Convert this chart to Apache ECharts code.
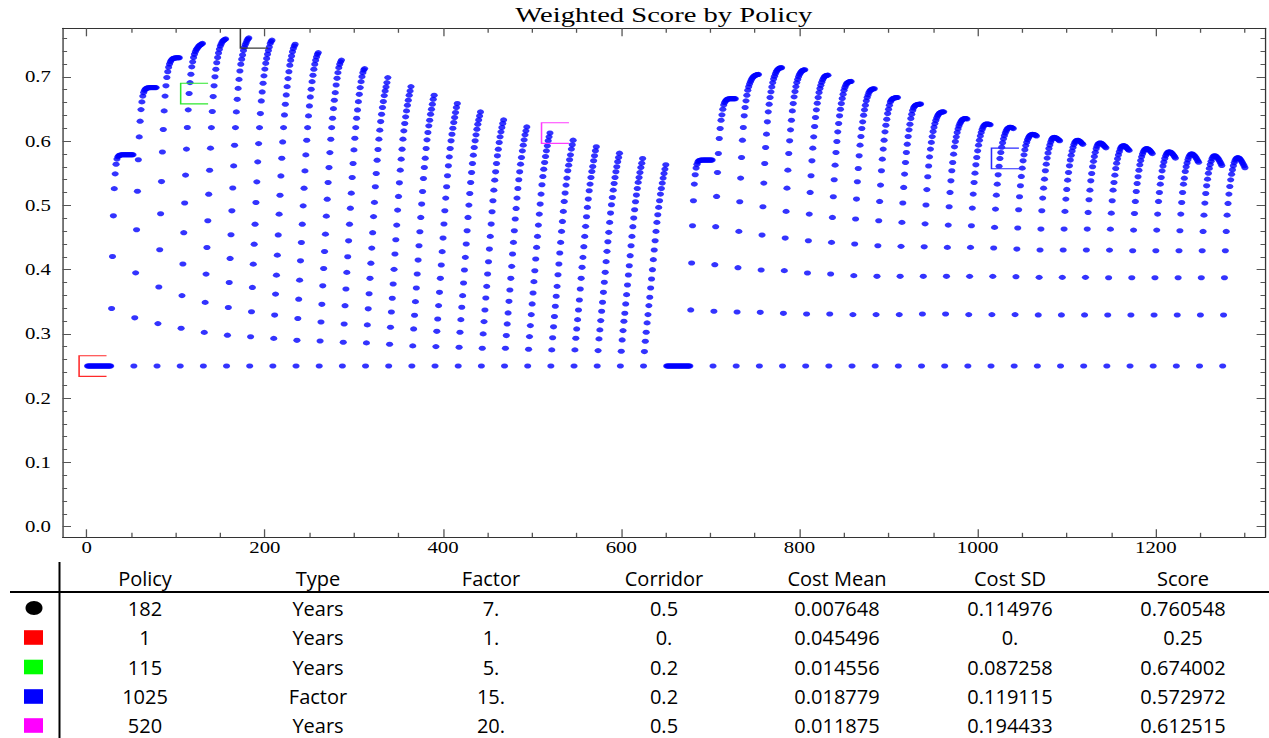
<!DOCTYPE html>
<html>
<head>
<meta charset="utf-8">
<script src="https://cdn.jsdelivr.net/npm/echarts@6/dist/echarts.min.js"></script>
<style>
html,body{margin:0;padding:0;background:#fff;width:1269px;height:738px;overflow:hidden;}
#plot{position:absolute;left:0;top:0;width:976px;height:556px;transform:scaleX(1.3);transform-origin:0 0;}
#table{position:absolute;left:0;top:556px;width:1269px;height:182px;}
</style>
</head>
<body>
<div id="plot"></div>
<div id="table"></div>
<script>
// ---------- Scores by policy (26 corridor values per factor) ----------
// Type "Years", factor 1..25 (policies 1..650)
const years01 = [0.25,0.25,0.25,0.25,0.25,0.25,0.25,0.25,0.25,0.25,0.25,0.25,0.25,0.25,0.25,0.25,0.25,0.25,0.25,0.25,0.25,0.25,0.25,0.25,0.25,0.25];
const years02 = [0.25,0.3395,0.4204,0.4837,0.526,0.549,0.564,0.572,0.5755,0.5772,0.578,0.5784,0.5786,0.5787,0.5788,0.5788,0.5788,0.5788,0.5788,0.5788,0.5788,0.5788,0.5788,0.5788,0.5788,0.5788];
const years03 = [0.25,0.325,0.395,0.462,0.522,0.571,0.6065,0.631,0.649,0.661,0.670,0.6755,0.679,0.681,0.682,0.6825,0.683,0.683,0.6832,0.6832,0.6832,0.6832,0.6832,0.6832,0.6832,0.6832];
const years04 = [0.25,0.316,0.373,0.431,0.487,0.537,0.583,0.618,0.647,0.670,0.686,0.699,0.708,0.715,0.72,0.7235,0.726,0.7275,0.7285,0.729,0.7293,0.7295,0.7296,0.7297,0.7297,0.7297];
const years05 = [0.25,0.3088,0.3596,0.4088,0.4575,0.5036,0.5471,0.5875,0.6211,0.6486,0.674,0.691,0.704,0.7155,0.7233,0.73,0.735,0.739,0.742,0.744,0.746,0.748,0.749,0.750,0.751,0.752];
const years06 = [0.25,0.3023,0.349,0.393,0.4345,0.476,0.5174,0.5547,0.589,0.621,0.646,0.6693,0.686,0.700,0.7118,0.722,0.73,0.737,0.743,0.748,0.751,0.754,0.756,0.757,0.758,0.759];
const years07 = [0.25,0.298,0.341,0.380,0.4174,0.4542,0.4915,0.527,0.5614,0.5935,0.621,0.6454,0.665,0.682,0.696,0.709,0.7195,0.7273,0.734,0.741,0.746,0.750,0.753,0.7565,0.7588,0.7605];
const years08 = [0.25,0.2956,0.3345,0.3723,0.4085,0.4396,0.4707,0.5044,0.5366,0.5677,0.5961,0.621,0.6428,0.6625,0.6765,0.690,0.7015,0.712,0.721,0.7285,0.735,0.741,0.7465,0.752,0.755,0.757];
const years09 = [0.25,0.293,0.3293,0.3619,0.3914,0.4225,0.454,0.4863,0.5158,0.5458,0.5733,0.5987,0.621,0.6407,0.6573,0.6718,0.6847,0.6972,0.708,0.718,0.7257,0.7325,0.739,0.744,0.748,0.7507];
const years10 = [0.25,0.290,0.324,0.354,0.3836,0.4137,0.4422,0.4707,0.4992,0.5267,0.5536,0.5785,0.6013,0.621,0.6392,0.6547,0.6687,0.6806,0.6925,0.7024,0.7118,0.7195,0.7257,0.731,0.735,0.7377];
const years11 = [0.25,0.289,0.3185,0.346,0.3748,0.4018,0.4282,0.4552,0.4832,0.5096,0.5355,0.5588,0.5821,0.6029,0.621,0.6355,0.6505,0.6635,0.6754,0.6873,0.6977,0.7065,0.7143,0.7195,0.7233,0.726];
const years12 = [0.25,0.287,0.3154,0.3439,0.3698,0.3957,0.42,0.4448,0.4707,0.4956,0.519,0.5433,0.5651,0.5863,0.6044,0.621,0.6355,0.6485,0.6614,0.6728,0.6832,0.6925,0.7003,0.7065,0.7107,0.7128];
const years13 = [0.25,0.286,0.314,0.339,0.3625,0.3865,0.41,0.4335,0.4575,0.4825,0.5046,0.5289,0.5496,0.5703,0.5869,0.603,0.617,0.6304,0.6418,0.6522,0.6615,0.6708,0.6781,0.6843,0.691,0.6988];
const years14 = [0.25,0.2839,0.3103,0.3341,0.3554,0.3776,0.4004,0.4243,0.4465,0.4693,0.4926,0.5139,0.5351,0.5548,0.5719,0.5874,0.603,0.6159,0.6273,0.6377,0.647,0.6558,0.6636,0.6713,0.6781,0.6848];
const years15 = [0.25,0.2813,0.3077,0.329,0.3502,0.3714,0.3932,0.4149,0.4372,0.459,0.4812,0.502,0.5216,0.5418,0.5589,0.5734,0.5885,0.6019,0.6133,0.6237,0.6325,0.6418,0.6496,0.6574,0.6651,0.6713];
const years16 = [0.25,0.2802,0.304,0.3232,0.344,0.3647,0.3865,0.4072,0.428,0.4491,0.471,0.4916,0.5113,0.529,0.546,0.5615,0.5755,0.5885,0.6004,0.6107,0.62,0.6289,0.6367,0.6444,0.6522,0.6584];
const years17 = [0.25,0.2792,0.3025,0.3222,0.3414,0.3595,0.3792,0.3994,0.4191,0.4398,0.4605,0.4812,0.5004,0.5185,0.5356,0.5512,0.5652,0.5781,0.59,0.6004,0.6097,0.6185,0.6263,0.633,0.6392,0.6454];
const years18 = [0.25,0.2777,0.3,0.3191,0.3372,0.3559,0.374,0.3932,0.4123,0.432,0.4517,0.4709,0.4901,0.5071,0.5237,0.5392,0.5522,0.5652,0.5771,0.5874,0.5978,0.6066,0.6144,0.6211,0.6273,0.633];
const years19 = [0.25,0.2777,0.2974,0.3155,0.3326,0.3507,0.3683,0.3865,0.4051,0.4243,0.4424,0.4605,0.4787,0.4952,0.5113,0.5263,0.5398,0.5522,0.5641,0.5745,0.5848,0.5937,0.6019,0.6097,0.6159,0.6221];
const years20 = [0.25,0.2761,0.2958,0.3129,0.33,0.3466,0.3636,0.3813,0.3983,0.4165,0.4346,0.4517,0.4693,0.4864,0.502,0.5175,0.532,0.5449,0.5563,0.5667,0.576,0.5848,0.5926,0.6004,0.6066,0.6125];
const years21 = [0.25,0.2751,0.294,0.311,0.327,0.343,0.3585,0.374,0.392,0.4087,0.4258,0.4424,0.4595,0.475,0.4906,0.5061,0.5191,0.5315,0.5424,0.5538,0.5626,0.5709,0.5786,0.5875,0.5942,0.6014];
const years22 = [0.25,0.2751,0.2932,0.3077,0.3222,0.3372,0.3528,0.3699,0.3865,0.4036,0.4191,0.4357,0.4517,0.4673,0.4823,0.4968,0.5098,0.5227,0.5331,0.5434,0.5527,0.5605,0.5693,0.5771,0.5849,0.5911];
const years23 = [0.25,0.274,0.2922,0.3062,0.3207,0.3352,0.3492,0.3647,0.3803,0.3958,0.4124,0.4284,0.4434,0.458,0.4735,0.488,0.5009,0.5123,0.5237,0.534,0.5434,0.5522,0.56,0.5678,0.5745,0.5812];
const years24 = [0.25,0.273,0.2906,0.3051,0.3196,0.3321,0.3466,0.3611,0.3761,0.3916,0.4061,0.4217,0.4372,0.4517,0.4668,0.4802,0.4932,0.5056,0.516,0.5263,0.5357,0.5434,0.5512,0.559,0.5657,0.5729];
const years25 = [0.25,0.2725,0.2886,0.3026,0.3171,0.33,0.344,0.357,0.3714,0.3854,0.3999,0.4155,0.4305,0.445,0.4595,0.4735,0.4854,0.4968,0.5072,0.5175,0.5263,0.5346,0.5424,0.5496,0.5564,0.5631];
// Type "Factor", factor 1..25 (policies 651..1300)
const factor01 = [0.25,0.25,0.25,0.25,0.25,0.25,0.25,0.25,0.25,0.25,0.25,0.25,0.25,0.25,0.25,0.25,0.25,0.25,0.25,0.25,0.25,0.25,0.25,0.25,0.25,0.25];
const factor02 = [0.25,0.3373,0.4103,0.4683,0.5072,0.5331,0.5476,0.558,0.564,0.5675,0.5693,0.570,0.5703,0.5704,0.5705,0.5705,0.5705,0.5705,0.5705,0.5705,0.5705,0.5705,0.5705,0.5705,0.5705,0.5705];
const factor03 = [0.25,0.3352,0.4077,0.4668,0.5139,0.5512,0.5807,0.604,0.6196,0.6325,0.6408,0.6496,0.6563,0.660,0.6625,0.664,0.665,0.6655,0.6658,0.666,0.666,0.666,0.666,0.666,0.666,0.666];
const factor04 = [0.25,0.334,0.403,0.4595,0.5056,0.5424,0.5745,0.6014,0.6211,0.6393,0.6522,0.6626,0.6714,0.6791,0.6845,0.689,0.6925,0.6955,0.698,0.6998,0.701,0.702,0.7027,0.7032,0.7035,0.7037];
const factor05 = [0.25,0.3336,0.3994,0.4538,0.4978,0.5346,0.5652,0.5901,0.6108,0.63,0.6455,0.6574,0.6678,0.6766,0.6843,0.691,0.6965,0.701,0.7048,0.708,0.7103,0.712,0.7131,0.7137,0.714,0.7142];
const factor06 = [0.25,0.332,0.3984,0.4491,0.4906,0.5268,0.5548,0.5807,0.6004,0.6175,0.6325,0.647,0.6584,0.6688,0.6771,0.6848,0.691,0.696,0.700,0.7035,0.706,0.708,0.7095,0.7103,0.7108,0.711];
const factor07 = [0.25,0.331,0.3948,0.445,0.4864,0.5201,0.546,0.5693,0.589,0.6066,0.6227,0.6367,0.6486,0.659,0.6678,0.6755,0.6817,0.6869,0.6915,0.6952,0.698,0.7,0.7012,0.702,0.7024,0.7026];
const factor08 = [0.25,0.331,0.3932,0.4424,0.4812,0.5134,0.5398,0.5626,0.5823,0.5994,0.6144,0.6273,0.6393,0.6496,0.6584,0.6662,0.6729,0.6791,0.6833,0.6869,0.6895,0.691,0.6918,0.6923,0.6926,0.6928];
const factor09 = [0.25,0.33,0.3906,0.4398,0.4787,0.5098,0.5367,0.5574,0.5771,0.5937,0.6071,0.6196,0.6299,0.6403,0.6486,0.6558,0.6626,0.6678,0.6719,0.6755,0.6781,0.6795,0.6805,0.681,0.6813,0.6815];
const factor10 = [0.25,0.33,0.3896,0.4372,0.4761,0.5061,0.5315,0.5538,0.5719,0.5875,0.6014,0.6144,0.6247,0.6341,0.6429,0.6496,0.6558,0.661,0.6635,0.6652,0.6662,0.6668,0.6672,0.6675,0.6677,0.6678];
const factor11 = [0.25,0.33,0.3896,0.4362,0.4735,0.5036,0.5279,0.5486,0.5667,0.5823,0.5952,0.6071,0.6175,0.6263,0.6351,0.6418,0.6475,0.6515,0.654,0.6555,0.6563,0.6568,0.6571,0.6573,0.6575,0.6576];
const factor12 = [0.25,0.331,0.3896,0.4355,0.4712,0.5005,0.5245,0.5445,0.5612,0.5755,0.5875,0.598,0.607,0.6148,0.6215,0.6272,0.632,0.636,0.6392,0.6415,0.6432,0.6443,0.645,0.6453,0.6455,0.6455];
const factor13 = [0.25,0.331,0.3896,0.4346,0.4693,0.4978,0.5201,0.5382,0.5538,0.5667,0.5797,0.591,0.5993,0.6066,0.6133,0.619,0.6235,0.627,0.6298,0.632,0.6335,0.6345,0.635,0.6352,0.635,0.6345];
const factor14 = [0.25,0.33,0.3895,0.4346,0.4683,0.4957,0.5175,0.5356,0.5501,0.5631,0.5745,0.5848,0.5937,0.6014,0.6081,0.6135,0.618,0.6215,0.624,0.6255,0.6263,0.6266,0.6266,0.6264,0.626,0.6255];
const factor15 = [0.25,0.33,0.3895,0.4336,0.4657,0.4942,0.5159,0.533,0.5475,0.5608,0.573,0.5823,0.5905,0.5975,0.6035,0.6085,0.6125,0.6158,0.6183,0.62,0.621,0.6215,0.6215,0.6212,0.6205,0.6195];
const factor16 = [0.25,0.33,0.389,0.432,0.4647,0.4932,0.5134,0.5305,0.545,0.5579,0.5693,0.5786,0.5865,0.593,0.598,0.602,0.605,0.6075,0.609,0.61,0.6105,0.6105,0.6102,0.6098,0.609,0.608];
const factor17 = [0.25,0.3295,0.388,0.4305,0.4631,0.4916,0.5113,0.5268,0.5408,0.5538,0.5641,0.5735,0.5815,0.5885,0.594,0.5985,0.602,0.6043,0.6055,0.6058,0.6055,0.6048,0.604,0.603,0.6018,0.6005];
const factor18 = [0.25,0.3295,0.388,0.4305,0.4631,0.4906,0.5097,0.5248,0.5392,0.5512,0.5615,0.5705,0.578,0.5845,0.59,0.5945,0.5978,0.5998,0.6008,0.6012,0.601,0.6003,0.5993,0.598,0.5965,0.595];
const factor19 = [0.25,0.3295,0.388,0.4305,0.4631,0.489,0.5087,0.5237,0.5382,0.5496,0.56,0.5685,0.576,0.5825,0.588,0.592,0.595,0.5965,0.597,0.597,0.5965,0.5955,0.594,0.5925,0.591,0.5895];
const factor20 = [0.25,0.3294,0.3874,0.4304,0.463,0.4879,0.5071,0.5237,0.5356,0.547,0.5573,0.5655,0.5725,0.5785,0.5835,0.5875,0.5903,0.592,0.5928,0.593,0.5925,0.5915,0.59,0.5885,0.587,0.5855];
const factor21 = [0.25,0.3294,0.3874,0.4294,0.4615,0.4874,0.5061,0.5216,0.534,0.5444,0.5547,0.563,0.5698,0.5755,0.58,0.5835,0.586,0.5875,0.5882,0.5882,0.5878,0.587,0.5858,0.5842,0.5825,0.5805];
const factor22 = [0.25,0.3294,0.3874,0.4294,0.4615,0.4864,0.5061,0.52,0.533,0.5434,0.5537,0.5612,0.5675,0.5728,0.577,0.58,0.582,0.583,0.5832,0.583,0.5823,0.5812,0.5797,0.5778,0.5757,0.5735];
const factor23 = [0.25,0.3294,0.3874,0.4294,0.4605,0.4864,0.5045,0.52,0.533,0.5423,0.5527,0.56,0.566,0.571,0.575,0.5778,0.5795,0.58,0.5798,0.579,0.5778,0.5762,0.5742,0.572,0.5695,0.567];
const factor24 = [0.25,0.3294,0.3874,0.4294,0.4594,0.4848,0.5035,0.5185,0.5304,0.5408,0.55,0.5575,0.5635,0.5685,0.5725,0.5752,0.5768,0.5772,0.5768,0.5758,0.5743,0.5724,0.5702,0.5677,0.565,0.562];
const factor25 = [0.25,0.3294,0.3874,0.4294,0.4594,0.4848,0.503,0.5175,0.5294,0.5397,0.5485,0.5555,0.5615,0.5665,0.5702,0.5725,0.5738,0.5742,0.5738,0.5728,0.5712,0.5692,0.5668,0.5642,0.5615,0.5585];

// ---------- Axis ticks ----------
const xMajorTicks = [0, 200, 400, 600, 800, 1000, 1200];
const xMinorTicks = [50, 100, 150, 250, 300, 350, 450, 500, 550, 650, 700, 750, 850, 900, 950, 1050, 1100, 1150, 1250, 1300];
const yMajorTicks = [0, 0.1, 0.2, 0.3, 0.4, 0.5, 0.6, 0.7];
const yMinorTicks = [0.02, 0.04, 0.06, 0.08, 0.12, 0.14, 0.16, 0.18, 0.22, 0.24, 0.26, 0.28, 0.32, 0.34, 0.36, 0.38, 0.42, 0.44, 0.46, 0.48, 0.52, 0.54, 0.56, 0.58, 0.62, 0.64, 0.66, 0.68, 0.72, 0.74, 0.76];

// ---------- Selected-policy table ----------
const tableHeader = ['Policy', 'Type', 'Factor', 'Corridor', 'Cost Mean', 'Cost SD', 'Score'];
const tablePolicy = ['182', '1', '115', '1025', '520'];
const tableType = ['Years', 'Years', 'Years', 'Factor', 'Years'];
const tableFactor = ['7.', '1.', '5.', '15.', '20.'];
const tableCorridor = ['0.5', '0.', '0.2', '0.2', '0.5'];
const tableCostMean = ['0.007648', '0.045496', '0.014556', '0.018779', '0.011875'];
const tableCostSD = ['0.114976', '0.', '0.087258', '0.119115', '0.194433'];
const tableScore = ['0.760548', '0.25', '0.674002', '0.572972', '0.612515'];
const markerColors = ['#000000', '#ff0000', '#00ff00', '#0000ff', '#ff00ff'];
const bracketColors = ['#3a3a3a', '#ff2a2a', '#2ee82e', '#2a2aff', '#ff3cff'];

// ---------- Build ----------
const yearsGroups = [years01,years02,years03,years04,years05,years06,years07,years08,years09,years10,years11,years12,years13,years14,years15,years16,years17,years18,years19,years20,years21,years22,years23,years24,years25];
const factorGroups = [factor01,factor02,factor03,factor04,factor05,factor06,factor07,factor08,factor09,factor10,factor11,factor12,factor13,factor14,factor15,factor16,factor17,factor18,factor19,factor20,factor21,factor22,factor23,factor24,factor25];
const allScores = [].concat(...yearsGroups, ...factorGroups);
const points = allScores.map((s, i) => [i + 1, s]);
const selected = tablePolicy.map((p, i) => [Number(p), Number(tableScore[i]), i]);

const K = 1.3;            // horizontal stretch of the plot
const W = 976, H = 556;
const X_MIN = -27, X_MAX = 1322.5;
const Y_MIN = -0.0165, Y_MAX = 0.7755;
const serif = '"Liberation Serif", "Times New Roman", serif';
const frameColor = '#333';
const tickColor = '#555';

function xAxisDef(pos, ticks, len, withLine, withLabel) {
  return {
    type: 'value', position: pos, min: X_MIN, max: X_MAX,
    axisLine: { show: withLine, onZero: false, lineStyle: { color: frameColor, width: 1 } },
    axisTick: { show: true, inside: true, length: len, customValues: ticks, lineStyle: { color: tickColor, width: 1 } },
    axisLabel: withLabel ? { show: true, customValues: ticks, margin: 2, fontFamily: serif, fontSize: 16, color: '#000', formatter: v => String(Math.round(v)) } : { show: false },
    splitLine: { show: false }, minorTick: { show: false }
  };
}
function yAxisDef(pos, ticks, len, withLine, withLabel) {
  return {
    type: 'value', position: pos, min: Y_MIN, max: Y_MAX,
    axisLine: { show: withLine, onZero: false, lineStyle: { color: frameColor, width: 1 } },
    axisTick: { show: true, inside: true, length: len, customValues: ticks, lineStyle: { color: tickColor, width: 1 } },
    axisLabel: withLabel ? { show: true, customValues: ticks, margin: 9, fontFamily: serif, fontSize: 16, color: '#000', formatter: v => Number(v).toFixed(1) } : { show: false },
    splitLine: { show: false }, minorTick: { show: false }
  };
}

const plot = echarts.init(document.getElementById('plot'), null, { renderer: 'svg', width: W, height: H });
plot.setOption({
  animation: false,
  backgroundColor: 'transparent',
  grid: { left: 62.6 / K, right: W - 1265 / K, top: 28.3, bottom: H - 537.3, containLabel: false, outerBoundsMode: 'none' },
  graphic: [{
    type: 'text', x: 663.8 / K, y: 4, silent: true,
    style: { text: 'Weighted Score by Policy', fill: '#000', font: '22px ' + serif, align: 'center', textAlign: 'center', verticalAlign: 'top', textVerticalAlign: 'top' }
  }],
  xAxis: [
    xAxisDef('bottom', xMajorTicks, 8, true, true),
    xAxisDef('top', xMajorTicks, 8, true, false),
    xAxisDef('bottom', xMinorTicks, 4.5, false, false),
    xAxisDef('top', xMinorTicks, 4.5, false, false)
  ],
  yAxis: [
    yAxisDef('left', yMajorTicks, 8 / K * 1.05, true, true),
    yAxisDef('right', yMajorTicks, 8 / K * 1.05, true, false),
    yAxisDef('left', yMinorTicks, 4.5 / K, false, false),
    yAxisDef('right', yMinorTicks, 4.5 / K, false, false)
  ],
  series: [
    {
      type: 'scatter', xAxisIndex: 0, yAxisIndex: 0, data: points,
      symbol: 'circle', symbolSize: [5.5, 5.1], silent: true,
      itemStyle: { color: '#0000ff' }, z: 2
    },
    {
      type: 'custom', xAxisIndex: 0, yAxisIndex: 0, data: selected, silent: true, z: 5, clip: true,
      renderItem: function (params, api) {
        const c = api.coord([api.value(0), api.value(1)]);
        const col = bracketColors[api.value(2)];
        const l = c[0] - 6.5, r = c[0] + 14.6, t = c[1] - 10.3, b = c[1] + 10.3;
        return {
          type: 'polyline',
          shape: { points: [[r, t], [l, t], [l, b], [r, b]] },
          style: { stroke: col, fill: 'none', lineWidth: 1.2 }
        };
      }
    }
  ]
});

// ---------- Table below the plot ----------
const sans = '"Open Sans", "Noto Sans", sans-serif';
const colX = [145, 318, 491, 664, 837, 1010, 1183];
const headerY = 22;
const rowY = [52, 81.5, 111, 140.5, 169.5];
const columns = [tablePolicy, tableType, tableFactor, tableCorridor, tableCostMean, tableCostSD, tableScore];
function cellText(t, x, y) {
  return { type: 'text', silent: true, x: x, y: y,
    style: { text: t, fill: '#000', font: '20px ' + sans, lineHeight: 18, align: 'center', textAlign: 'center', verticalAlign: 'middle', textVerticalAlign: 'middle' } };
}
const tg = [];
tg.push({ type: 'line', silent: true, shape: { x1: 59.5, y1: 6, x2: 59.5, y2: 182 }, style: { stroke: '#000', lineWidth: 2 } });
tg.push({ type: 'line', silent: true, shape: { x1: 10, y1: 36, x2: 1269, y2: 36 }, style: { stroke: '#000', lineWidth: 2 } });
tableHeader.forEach((h, j) => tg.push(cellText(h, colX[j], headerY)));
columns.forEach((col, j) => col.forEach((v, i) => tg.push(cellText(v, colX[j], rowY[i]))));
markerColors.forEach((c, i) => {
  if (i === 0) {
    tg.push({ type: 'ellipse', silent: true, shape: { cx: 34, cy: rowY[i], rx: 8.5, ry: 7 }, style: { fill: c } });
  } else {
    tg.push({ type: 'rect', silent: true, shape: { x: 24, y: rowY[i] - 7.3, width: 19, height: 14.6 }, style: { fill: c } });
  }
});
const table = echarts.init(document.getElementById('table'), null, { renderer: 'svg', width: 1269, height: 182 });
table.setOption({ animation: false, graphic: tg });
</script>
</body>
</html>
